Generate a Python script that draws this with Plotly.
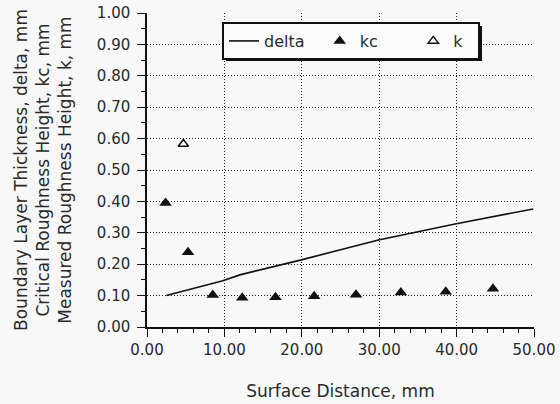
import plotly.graph_objects as go

# Data
delta_x = [2.5, 9.8, 12.0, 19.8, 29.9, 39.8, 49.9]
delta_y = [0.100, 0.147, 0.166, 0.213, 0.277, 0.328, 0.376]

kc_x = [2.4, 5.3, 8.5, 12.3, 16.6, 21.6, 27.0, 32.8, 38.6, 44.7]
kc_y = [0.395, 0.238, 0.102, 0.093, 0.095, 0.098, 0.103, 0.110, 0.112, 0.122]

k_x = [4.7]
k_y = [0.583]

x_ticks = [0, 10, 20, 30, 40, 50]
y_ticks = [0.0, 0.1, 0.2, 0.3, 0.4, 0.5, 0.6, 0.7, 0.8, 0.9, 1.0]

series_names = ["delta", "kc", "k"]
NB = "\u00a0"

FONT = "DejaVu Sans, Verdana, sans-serif"
TXT = "#2a2a2a"
INK = "#111111"

fig = go.Figure()
fig.add_trace(go.Scatter(x=delta_x, y=delta_y, mode="lines", name=series_names[0] + NB * 2,
                         line=dict(color=INK, width=1.6)))
fig.add_trace(go.Scatter(x=kc_x, y=kc_y, mode="markers", name=series_names[1] + NB * 6,
                         marker=dict(symbol="triangle-up", size=11, color=INK)))
fig.add_trace(go.Scatter(x=k_x, y=k_y, mode="markers", name=series_names[2] + NB * 2,
                         marker=dict(symbol="triangle-up-open", size=9, color=INK,
                                     line=dict(width=1.5, color=INK))))

axis_common = dict(
    showline=True, linecolor=INK, linewidth=1.5, automargin=False,
    showgrid=True, gridcolor="#222", gridwidth=1, griddash="1px,2px",
    zeroline=False, ticks="outside", ticklen=8, tickwidth=1.2, tickcolor=INK,
    tickfont=dict(family=FONT, size=15, color=TXT), tickformat=".2f",
)

fig.update_xaxes(range=[0, 50], tickvals=x_ticks,
                 minor=dict(dtick=2, ticks="outside", ticklen=4, tickcolor=INK, showgrid=False),
                 title=dict(text="Surface Distance, mm", font=dict(family=FONT, size=17, color=TXT),
                            standoff=27),
                 **axis_common)
fig.update_yaxes(range=[0, 1.0], tickvals=y_ticks, ticklabelstandoff=4,
                 minor=dict(dtick=0.05, ticks="outside", ticklen=4, tickcolor=INK, showgrid=False),
                 title=dict(text="Boundary Layer Thickness, delta, mm<br>Critical Roughness Height, kc, mm<br>Measured Roughness Height, k, mm",
                            font=dict(family=FONT, size=17, color=TXT), standoff=21),
                 **axis_common)

# legend drop shadow
fig.add_shape(type="rect", xref="paper", yref="paper",
              x0=(226 - 147) / 387, x1=(482 - 147) / 387,
              y0=(327 - 61) / 314, y1=(327 - 26) / 314,
              fillcolor=INK, line=dict(width=0), layer="above")

fig.update_layout(
    width=560, height=404,
    margin=dict(l=147, r=26, t=13, b=77, autoexpand=False),
    paper_bgcolor="#f8f8f8", plot_bgcolor="#f8f8f8",
    showlegend=True,
    legend=dict(orientation="h", x=(222 - 147) / 387, y=(327 - 22) / 314,
                xanchor="left", yanchor="top",
                bgcolor="#fbfbfb", bordercolor=INK, borderwidth=2,
                font=dict(family=FONT, size=16, color=TXT),
                itemwidth=30),
)

fig.write_html("out.html")
